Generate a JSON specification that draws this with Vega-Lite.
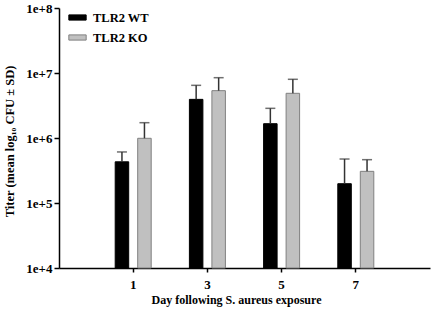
{
  "$schema": "https://vega.github.io/schema/vega-lite/v6.json",
  "width": 371,
  "height": 260,
  "autosize": {"type": "none"},
  "padding": {"left": 59, "top": 8, "right": 7, "bottom": 47},
  "background": "white",
  "config": {
    "view": {"stroke": null},
    "font": "Liberation Serif",
    "legend": {"labelFont": "Liberation Serif", "labelFontWeight": "bold", "labelFontSize": 12.5, "labelColor": "#000"},
    "axis": {"grid": false, "domainColor": "#000", "tickColor": "#000", "labelColor": "#000", "titleColor": "#000", "labelFont": "Liberation Serif", "titleFont": "Liberation Serif", "labelFontWeight": "bold", "titleFontWeight": "bold"}
  },
  "data": {
    "values": [
      {"day": "1", "group": "TLR2 WT", "titer": 430000, "err": 610000},
      {"day": "1", "group": "TLR2 KO", "titer": 990000, "err": 1720000},
      {"day": "3", "group": "TLR2 WT", "titer": 3930000, "err": 6460000},
      {"day": "3", "group": "TLR2 KO", "titer": 5350000, "err": 8470000},
      {"day": "5", "group": "TLR2 WT", "titer": 1660000, "err": 2860000},
      {"day": "5", "group": "TLR2 KO", "titer": 4870000, "err": 8000000},
      {"day": "7", "group": "TLR2 WT", "titer": 198000, "err": 475000},
      {"day": "7", "group": "TLR2 KO", "titer": 307000, "err": 464000}
    ]
  },
  "encoding": {
    "x": {
      "field": "day", "type": "nominal",
      "scale": {"domain": ["1", "3", "5", "7"], "paddingInner": 0.3935, "paddingOuter": 0.69675},
      "axis": {"labelAngle": 0, "tickSize": 4, "labelPadding": 6, "labelFontSize": 13, "domainWidth": 1.5, "tickWidth": 1.5,
               "title": "Day following S. aureus exposure", "titleFontSize": 12, "titleX": 177, "titleY": 26}
    },
    "xOffset": {
      "field": "group", "type": "nominal",
      "scale": {"domain": ["TLR2 WT", "TLR2 KO"], "paddingInner": 0.4, "paddingOuter": 0.2}
    }
  },
  "layer": [
    {
      "mark": {"type": "bar", "strokeWidth": 1},
      "encoding": {
        "y": {
          "field": "titer", "type": "quantitative",
          "scale": {"type": "log", "domain": [10000, 100000000], "nice": false},
          "axis": {"values": [10000, 100000, 1000000, 10000000, 100000000], "labelExpr": "'1e+' + round(log(datum.value)/LN10)",
                   "tickSize": 5, "labelPadding": 2, "labelFontSize": 13, "domainWidth": 1.5, "tickWidth": 1.5,
                   "title": "Titer (mean log₁₀ CFU ± SD)", "titleFontSize": 12.5, "titleX": -43, "titleY": 133}
        },
        "y2": {"datum": 10000},
        "fill": {
          "field": "group", "type": "nominal",
          "scale": {"domain": ["TLR2 WT", "TLR2 KO"], "range": ["#000000", "#c0c0c0"]},
          "legend": {"orient": "none", "legendX": 9, "legendY": 0, "title": null, "symbolType": "M-1,-0.3H1V0.3H-1Z", "symbolSize": 300,
                     "labelFont": "Liberation Serif", "labelFontWeight": "bold", "labelFontSize": 12.5, "labelColor": "#000", "labelOffset": 6, "rowPadding": 4, "symbolStrokeWidth": 1}
        },
        "stroke": {
          "field": "group", "type": "nominal",
          "scale": {"domain": ["TLR2 WT", "TLR2 KO"], "range": ["#000000", "#808080"]}
        }
      }
    },
    {
      "mark": {"type": "rule", "color": "#333", "strokeWidth": 1.5},
      "encoding": {
        "y": {"field": "titer", "type": "quantitative"},
        "y2": {"field": "err"}
      }
    },
    {
      "mark": {"type": "tick", "color": "#333", "size": 10, "thickness": 1.5},
      "encoding": {
        "y": {"field": "err", "type": "quantitative"}
      }
    }
  ]
}
